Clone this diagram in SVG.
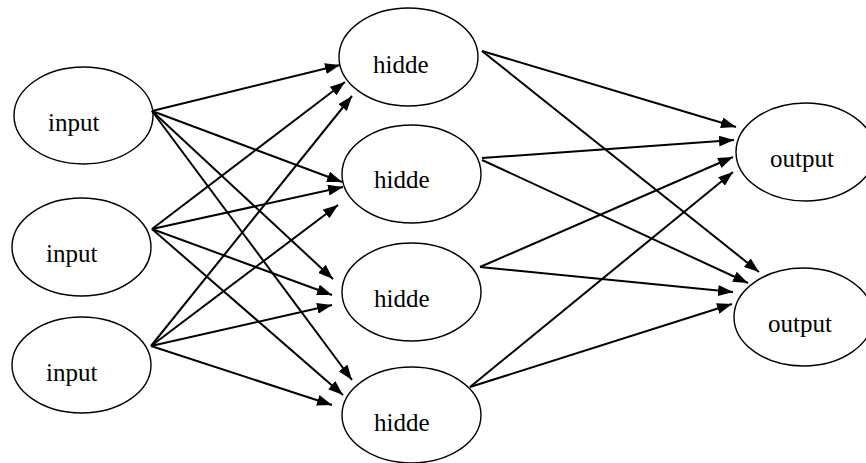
<svg xmlns="http://www.w3.org/2000/svg" width="866" height="463" viewBox="0 0 866 463">
  <style>
    .node ellipse { fill: #fff; stroke: #000; stroke-width: 1.4; }
    .node text { font-family: "Liberation Serif", "Times New Roman", serif; font-size: 25px; fill: #000; }
    #edges line { stroke: #000; stroke-width: 2; marker-end: url(#arrow); }
  </style>
  <defs>
    <marker id="arrow" markerUnits="userSpaceOnUse" markerWidth="16" markerHeight="11" refX="15" refY="5.5" orient="auto">
      <path d="M0,0 L15,5.5 L0,11 z" fill="#000"/>
    </marker>
  </defs>
  <rect width="866" height="463" fill="#fff"/>

  <!-- input layer -->
  <g id="input1" class="node"><ellipse cx="83.5" cy="115.5" rx="69.5" ry="48.5"/><text x="48" y="131">input</text></g>
  <g id="input2" class="node"><ellipse cx="81.5" cy="247" rx="69.5" ry="49"/><text x="46" y="262">input</text></g>
  <g id="input3" class="node"><ellipse cx="81.5" cy="365" rx="69.5" ry="48"/><text x="46" y="381">input</text></g>

  <!-- hidden layer -->
  <g id="hidden1" class="node"><ellipse cx="408.5" cy="57" rx="69.5" ry="49"/><text x="373" y="73">hidde</text></g>
  <g id="hidden2" class="node"><ellipse cx="411.5" cy="174" rx="69.5" ry="49"/><text x="374" y="188">hidde</text></g>
  <g id="hidden3" class="node"><ellipse cx="411.5" cy="292" rx="69.5" ry="49"/><text x="374" y="307">hidde</text></g>
  <g id="hidden4" class="node"><ellipse cx="411.5" cy="415" rx="69.5" ry="48"/><text x="374" y="431">hidde</text></g>

  <!-- output layer -->
  <g id="output1" class="node"><ellipse cx="805.5" cy="152" rx="69.5" ry="49"/><text x="770" y="167">output</text></g>
  <g id="output2" class="node"><ellipse cx="803.5" cy="317" rx="69.5" ry="49"/><text x="768" y="332">output</text></g>

  <!-- connections -->
  <g id="edges">
    <line x1="152" y1="111" x2="340" y2="65"/>
    <line x1="152" y1="111" x2="342" y2="182"/>
    <line x1="152" y1="111" x2="333" y2="279"/>
    <line x1="152" y1="111" x2="352" y2="380"/>

    <line x1="152" y1="229" x2="345" y2="82"/>
    <line x1="152" y1="229" x2="343" y2="187"/>
    <line x1="152" y1="229" x2="332" y2="295"/>
    <line x1="152" y1="229" x2="343" y2="395"/>

    <line x1="151" y1="346" x2="352" y2="96"/>
    <line x1="151" y1="346" x2="338" y2="205"/>
    <line x1="151" y1="346" x2="332" y2="305"/>
    <line x1="151" y1="346" x2="332" y2="405"/>

    <line x1="482" y1="51" x2="736" y2="127"/>
    <line x1="482" y1="51" x2="759" y2="272"/>
    <line x1="482" y1="158" x2="734" y2="140"/>
    <line x1="482" y1="160" x2="748" y2="283"/>
    <line x1="480" y1="267" x2="733" y2="157"/>
    <line x1="480" y1="267" x2="733" y2="292"/>
    <line x1="470" y1="387" x2="733" y2="172"/>
    <line x1="470" y1="387" x2="732" y2="304"/>
  </g>
</svg>
